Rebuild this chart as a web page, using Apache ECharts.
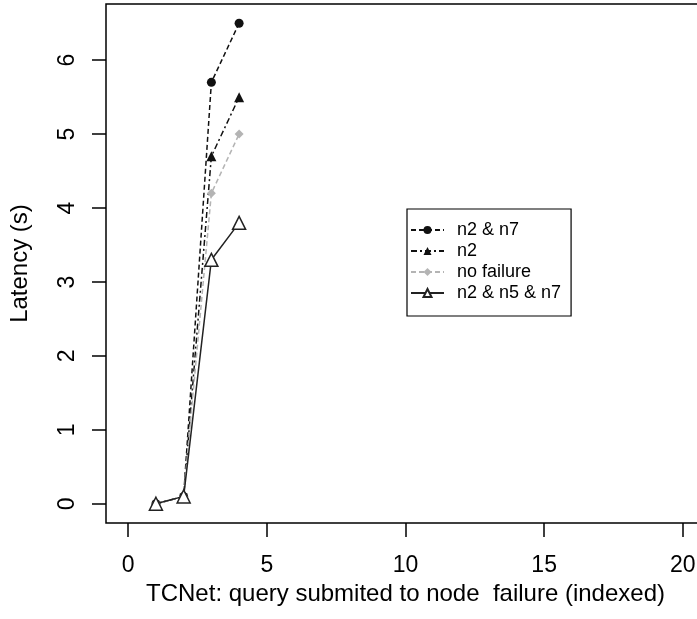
<!DOCTYPE html>
<html>
<head>
<meta charset="utf-8">
<script src="https://cdn.jsdelivr.net/npm/echarts@6/dist/echarts.min.js"></script>
<style>
  html, body { margin: 0; padding: 0; background: #fff; }
  #chart { width: 697px; height: 619px; }
</style>
</head>
<body>
<div id="chart"></div>
<script>
// query index (x) and latency per failure scenario
var queryIndex = [1, 2, 3, 4];
var latN2N7 = [0, 0.1, 5.7, 6.5];
var latN2 = [0, 0.1, 4.7, 5.5];
var latNoFailure = [0, 0.1, 4.2, 5.0];
var latN2N5N7 = [0, 0.1, 3.3, 3.8];
var xTicks = [0, 5, 10, 15, 20];
var yTicks = [0, 1, 2, 3, 4, 5, 6];

function pairs(ys) {
    var out = [];
    for (var i = 0; i < queryIndex.length; i++) {
        out.push([queryIndex[i], ys[i]]);
    }
    return out;
}

var FONT = '"Liberation Sans", Arial, sans-serif';
var chart = echarts.init(document.getElementById('chart'));

var option = {
    backgroundColor: '#fff',
    animation: false,
    textStyle: { fontFamily: FONT, color: '#000' },
    grid: {
        left: 106, top: 4, width: 599, bottom: 96,
        outerBoundsMode: 'none', containLabel: false,
        show: true, borderColor: '#000', borderWidth: 1.5, backgroundColor: 'transparent'
    },
    legend: {
        orient: 'vertical',
        left: 407, top: 209,
        itemWidth: 33, itemHeight: 10, itemGap: 3,
        padding: [12, 10, 14, 3],
        borderColor: '#000', borderWidth: 1.2,
        textStyle: { fontSize: 18, color: '#000', fontFamily: FONT, padding: [0, 0, 0, 8] },
        data: ['n2 & n7', 'n2', 'no failure', 'n2 & n5 & n7']
    },
    xAxis: {
        type: 'value',
        min: -0.8, max: 20.8,
        name: 'TCNet: query submited to node  failure (indexed)',
        nameLocation: 'middle', nameGap: 53,
        nameTextStyle: { fontSize: 24, color: '#000', fontFamily: FONT },
        axisLine: { show: false, onZero: false },
        splitLine: { show: false },
        axisTick: { show: true, inside: false, length: 14, customValues: xTicks,
                    lineStyle: { color: '#000', width: 1.5 } },
        axisLabel: { customValues: xTicks, fontSize: 23, color: '#000', margin: 31, fontFamily: FONT }
    },
    yAxis: {
        type: 'value',
        min: -0.26, max: 6.76,
        name: 'Latency (s)',
        nameLocation: 'middle', nameGap: 74, nameRotate: 90,
        nameTextStyle: { fontSize: 24, color: '#000', fontFamily: FONT },
        axisLine: { show: false, onZero: false },
        splitLine: { show: false },
        axisTick: { show: true, length: 14, customValues: yTicks,
                    lineStyle: { color: '#000', width: 1.5 } },
        axisLabel: { customValues: yTicks, rotate: 90, fontSize: 23, color: '#000', margin: 27, fontFamily: FONT }
    },
    series: [
        {
            name: 'n2 & n7', type: 'line', data: pairs(latN2N7),
            symbol: 'circle', symbolSize: 9,
            lineStyle: { color: '#111', width: 1.5, type: [5, 3] },
            itemStyle: { color: '#111' }
        },
        {
            name: 'n2', type: 'line', data: pairs(latN2),
            symbol: 'triangle', symbolSize: 10,
            lineStyle: { color: '#111', width: 1.5, type: [6, 3, 2, 3] },
            itemStyle: { color: '#111' }
        },
        {
            name: 'no failure', type: 'line', data: pairs(latNoFailure),
            symbol: 'diamond', symbolSize: 9,
            lineStyle: { color: '#b4b4b4', width: 1.5, type: [5, 3] },
            itemStyle: { color: '#b4b4b4' }
        },
        {
            name: 'n2 & n5 & n7', type: 'line', data: pairs(latN2N5N7),
            symbol: 'triangle', symbolSize: 13,
            lineStyle: { color: '#222', width: 1.5, type: 'solid' },
            itemStyle: { color: '#fff', borderColor: '#222', borderWidth: 1.5 }
        }
    ]
};

chart.setOption(option);
</script>
</body>
</html>
